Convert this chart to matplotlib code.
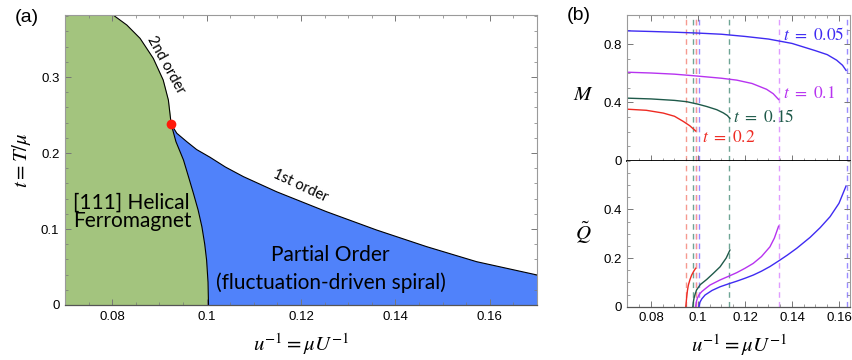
import numpy as np
import matplotlib
matplotlib.use("Agg")
import matplotlib.pyplot as plt
from matplotlib.ticker import AutoMinorLocator

plt.rcParams['mathtext.fontset'] = 'stix'
plt.rcParams['font.family'] = ['Liberation Sans', 'DejaVu Sans']

# ---------------- data: panel (a) phase diagram ----------------
# second-order line (upper part, from top of plot down to the tricritical point)
so_u = [0.0802, 0.0831, 0.0859, 0.0887, 0.0908, 0.0919, 0.0925]
so_t = [0.3816, 0.3684, 0.3509, 0.3246, 0.2961, 0.2697, 0.2377]
# ferromagnet / partial-order boundary (from tricritical point down to t=0)
lb_u = [0.0925, 0.0935, 0.0951, 0.0962, 0.0972, 0.0982, 0.0990, 0.0996, 0.1000, 0.1003, 0.1004]
lb_t = [0.2377, 0.2150, 0.1908, 0.1680, 0.1470, 0.1250, 0.1030, 0.0800, 0.0590, 0.0300, 0.0]
# first-order line
fo_u = [0.0925, 0.0937, 0.0958, 0.0979, 0.1007, 0.1040, 0.1078, 0.1148, 0.1254, 0.1360, 0.1466, 0.1572, 0.1700]
fo_t = [0.2377, 0.2259, 0.2149, 0.2045, 0.1945, 0.1815, 0.1689, 0.1491, 0.1228, 0.0987, 0.0768, 0.0570, 0.0395]
tc_point = (0.0925, 0.2377)

xa_ticks = [0.08, 0.10, 0.12, 0.14, 0.16]
xa_labels = ['0.08', '0.1', '0.12', '0.14', '0.16']
ya_ticks = [0, 0.1, 0.2, 0.3]
ya_labels = ['0', '0.1', '0.2', '0.3']

# ---------------- data: panel (b) ----------------
t_labels = ['0.05', '0.1', '0.15', '0.2']
colors = ['#3f2bf2', '#b733f0', '#1f5a4a', '#ee2a22']
dash_colors = ['#9a8cff', '#e09cff', '#6fa595', '#f59a90']

M_u = [
    [0.0705, 0.080, 0.090, 0.100, 0.110, 0.120, 0.130, 0.140, 0.150, 0.155, 0.159, 0.1615, 0.163],
    [0.0705, 0.080, 0.090, 0.099, 0.110, 0.1165, 0.123, 0.1292, 0.132, 0.1343],
    [0.0705, 0.080, 0.090, 0.0952, 0.100, 0.1037, 0.108, 0.1108, 0.1125, 0.1136],
    [0.0705, 0.078, 0.0852, 0.090, 0.0937, 0.0965, 0.0990],
]
M_v = [
    [0.891, 0.887, 0.882, 0.876, 0.868, 0.853, 0.835, 0.805, 0.755, 0.728, 0.690, 0.655, 0.620],
    [0.607, 0.602, 0.594, 0.582, 0.566, 0.553, 0.530, 0.490, 0.460, 0.420],
    [0.429, 0.424, 0.414, 0.405, 0.388, 0.372, 0.350, 0.328, 0.310, 0.290],
    [0.353, 0.346, 0.327, 0.305, 0.270, 0.240, 0.204],
]
Q_u = [
    [0.1004, 0.1008, 0.1016, 0.1030, 0.1060, 0.1094, 0.1130, 0.1165, 0.1200, 0.1235, 0.1270,
     0.1306, 0.1343, 0.1380, 0.1420, 0.1477, 0.1520, 0.1562, 0.1600, 0.1630],
    [0.0990, 0.0993, 0.0997, 0.1005, 0.1016, 0.1035, 0.1051, 0.1094, 0.1130, 0.1165, 0.1200,
     0.1235, 0.1270, 0.1306, 0.1325, 0.1343],
    [0.0978, 0.0980, 0.0983, 0.0988, 0.0994, 0.1010, 0.1037, 0.1065, 0.1094, 0.1120, 0.1136],
    [0.0948, 0.0950, 0.0952, 0.0955, 0.0959, 0.0966, 0.0973, 0.0982, 0.0990],
]
Q_v = [
    [0.0, 0.018, 0.032, 0.048, 0.067, 0.082, 0.094, 0.105, 0.117, 0.130, 0.146,
     0.165, 0.188, 0.212, 0.240, 0.285, 0.325, 0.370, 0.425, 0.496],
    [0.0, 0.020, 0.034, 0.050, 0.062, 0.077, 0.089, 0.110, 0.125, 0.140, 0.158,
     0.178, 0.206, 0.246, 0.282, 0.331],
    [0.0, 0.018, 0.035, 0.052, 0.069, 0.091, 0.112, 0.137, 0.164, 0.200, 0.233],
    [0.0, 0.020, 0.041, 0.066, 0.089, 0.112, 0.130, 0.146, 0.158],
]
# transition points (dashed vertical lines): lower and upper for each t
trans_u = [
    [0.1005, 0.1632],
    [0.0992, 0.1343],
    [0.0978, 0.1134],
    [0.0948, 0.0990],
]
# label anchor positions for t = ... labels
lab_pos = [(0.1362, 0.864), (0.1362, 0.463), (0.1149, 0.300), (0.1016, 0.163)]

xb_ticks = [0.08, 0.10, 0.12, 0.14, 0.16]
xb_labels = ['0.08', '0.1', '0.12', '0.14', '0.16']
M_ticks = [0, 0.4, 0.8]
M_labels = ['0', '0.4', '0.8']
Q_ticks = [0, 0.2, 0.4]
Q_labels = ['0', '0.2', '0.4']

GREEN = '#a3c47e'
BLUE = '#5082fa'
FRAME = '#9a9a9a'

fig = plt.figure(figsize=(8.52, 3.6), dpi=100)

def style_frame(ax, bottom_color='#555555'):
    for s in ['left', 'top', 'right']:
        ax.spines[s].set_color(FRAME)
        ax.spines[s].set_linewidth(0.8)
    ax.spines['bottom'].set_color(bottom_color)
    ax.spines['bottom'].set_linewidth(0.9)
    ax.tick_params(which='both', direction='in', top=True, right=True,
                   color='#777777', labelsize=9.5, pad=4)
    ax.tick_params(which='major', length=4, width=0.7)
    ax.tick_params(which='minor', length=2, width=0.5)

# ---------------- panel (a) ----------------
ax1 = fig.add_axes([0.0763, 0.1528, 0.5540, 0.8055])
ax1.set_xlim(0.07, 0.17)
ax1.set_ylim(0, 0.3816)

bnd_u = np.concatenate([so_u, lb_u[1:]])
bnd_t = np.concatenate([so_t, lb_t[1:]])
ax1.fill_betweenx(bnd_t, 0.07, bnd_u, color=GREEN, lw=0, zorder=1)

blue_u = np.concatenate([lb_u[::-1], fo_u[1:], [0.17, 0.17]])
blue_t = np.concatenate([lb_t[::-1], fo_t[1:], [fo_t[-1], 0.0]])
ax1.fill(blue_u, blue_t, color=BLUE, lw=0, zorder=1)

ax1.plot(bnd_u, bnd_t, color='black', lw=0.8, zorder=2)
ax1.plot(fo_u, fo_t, color='black', lw=0.8, zorder=2)
ax1.plot([tc_point[0]], [tc_point[1]], 'o', color='#ff1a0a', ms=7, mec='none', zorder=3)

style_frame(ax1)
ax1.set_xticks(xa_ticks)
ax1.set_xticklabels(xa_labels)
ax1.set_yticks(ya_ticks)
ax1.set_yticklabels(ya_labels)
ax1.xaxis.set_minor_locator(AutoMinorLocator(4))
ax1.yaxis.set_minor_locator(AutoMinorLocator(5))
ax1.set_xlabel(r'$u^{-1} = \mu U^{-1}$', fontsize=15, labelpad=6)
ax1.set_ylabel(r'$t = T/\mu$', fontsize=15, labelpad=6)

tfont = ['Lato', 'DejaVu Sans']
ax1.text(0.0717, 0.135, '[111] Helical', family=tfont, fontsize=15, va='center', ha='left', zorder=4)
ax1.text(0.0717, 0.111, 'Ferromagnet', family=tfont, fontsize=15, va='center', ha='left', zorder=4)
ax1.text(0.1261, 0.066, 'Partial Order', family=tfont, fontsize=15, va='center', ha='center', zorder=4)
ax1.text(0.1263, 0.029, '(fluctuation-driven spiral)', family=tfont, fontsize=15, va='center', ha='center', zorder=4)
ax1.text(0.1198, 0.1565, '1st order', family=tfont, fontsize=10.5, va='center', ha='center', rotation=-25, zorder=4)
ax1.text(0.0913, 0.316, '2nd order', family=tfont, fontsize=10.5, va='center', ha='center', rotation=-61, zorder=4)

fig.text(27/852, 1 - 18/360, '(a)', fontsize=14, ha='center', va='center')
fig.text(579/852, 1 - 16/360, '(b)', fontsize=14, ha='center', va='center')

# ---------------- panel (b) ----------------
ax2 = fig.add_axes([0.7365, 0.5536, 0.2612, 0.4047])
ax3 = fig.add_axes([0.7365, 0.1480, 0.2612, 0.4056], sharex=ax2)
ax2.set_xlim(0.07, 0.1647)
ax2.set_ylim(0, 1.0)
ax3.set_ylim(0, 0.6)

for i in range(4):
    for uu in trans_u[i]:
        for ax in (ax2, ax3):
            ax.axvline(uu, color=dash_colors[i], lw=1.0, ls=(0, (4, 3)), zorder=1)
    ax2.plot(M_u[i], M_v[i], color=colors[i], lw=1.0, zorder=3)
    ax3.plot(Q_u[i], Q_v[i], color=colors[i], lw=1.0, zorder=3)
    ax2.text(lab_pos[i][0], lab_pos[i][1], r'$t\ =\ ' + t_labels[i] + '$', color=colors[i],
             fontsize=12.5, ha='left', va='center', zorder=4)

style_frame(ax2, bottom_color='black')
ax2.spines['bottom'].set_linewidth(1.3)
style_frame(ax3)
ax3.spines['top'].set_visible(False)
ax3.tick_params(which='both', top=False)
ax2.tick_params(which='both', labelbottom=False)

ax3.set_xticks(xb_ticks)
ax3.set_xticklabels(xb_labels)
ax2.xaxis.set_minor_locator(AutoMinorLocator(4))
ax2.set_yticks(M_ticks)
ax2.set_yticklabels(M_labels)
ax2.yaxis.set_minor_locator(AutoMinorLocator(4))
ax3.set_yticks(Q_ticks)
ax3.set_yticklabels(Q_labels)
ax3.yaxis.set_minor_locator(AutoMinorLocator(4))

ax3.set_xlabel(r'$u^{-1} = \mu U^{-1}$', fontsize=15, labelpad=6)
fig.text(583/852, 1 - 95/360, r'$M$', fontsize=15, ha='center', va='center')
fig.text(583/852, 1 - 233/360, r'$\tilde{Q}$', fontsize=15, ha='center', va='center')

fig.savefig('out.png', dpi=100)
